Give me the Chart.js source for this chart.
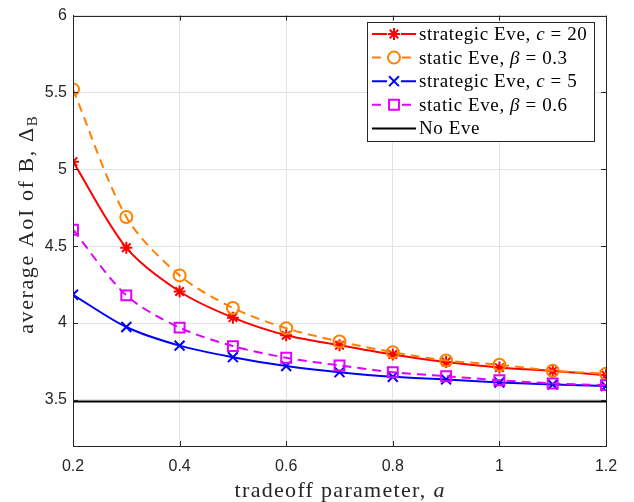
<!DOCTYPE html>
<html>
<head>
<meta charset="utf-8">
<script src="https://cdn.jsdelivr.net/npm/chart.js@4.4.1/dist/chart.umd.min.js"></script>
<style>
  html, body { margin: 0; padding: 0; background: #fff; }
  #wrap { width: 634px; height: 502px; }
</style>
</head>
<body>
<div id="wrap"><canvas id="aoi"></canvas></div>
<script>
// tradeoff parameter a
const tradeoff = [0.2, 0.3, 0.4, 0.5, 0.6, 0.7, 0.8, 0.9, 1.0, 1.1, 1.2];

// average AoI of B for each scenario
const strategicC20 = [5.05, 4.49, 4.205, 4.035, 3.92, 3.855, 3.795, 3.746, 3.71, 3.688, 3.66];
const staticB03   = [5.52, 4.69, 4.31, 4.098, 3.966, 3.88, 3.81, 3.756, 3.729, 3.69, 3.67];
const strategicC5 = [4.184, 3.974, 3.853, 3.778, 3.72, 3.68, 3.65, 3.633, 3.613, 3.60, 3.59];
const staticB06   = [4.607, 4.18, 3.97, 3.85, 3.774, 3.724, 3.68, 3.654, 3.628, 3.607, 3.596];
const noEve       = [3.49, 3.49, 3.49, 3.49, 3.49, 3.49, 3.49, 3.49, 3.49, 3.49, 3.49];

const xTicks = [0.2, 0.4, 0.6, 0.8, 1.0, 1.2];
const yTicks = [3.5, 4, 4.5, 5, 5.5, 6];

// legend text pieces: [plain, italic/math symbol, rest]
const legendLabels = [
  ['strategic Eve, ', 'c', ' = 20'],
  ['static Eve, ', 'β', ' = 0.3'],
  ['strategic Eve, ', 'c', ' = 5'],
  ['static Eve, ', 'β', ' = 0.6'],
  ['No Eve', '', '']
];

const SERIF = '"Liberation Serif", "DejaVu Serif", serif';
const SANS = '"Liberation Sans", Arial, sans-serif';
const AXIS = '#262626';

function pts(ys) {
  return ys.map((y, i) => ({ x: tradeoff[i], y: y }));
}

function series(label, ys, color, style, radius, dash, order) {
  return {
    label: label,
    data: pts(ys),
    borderColor: color,
    backgroundColor: 'rgba(0,0,0,0)',
    pointBorderColor: color,
    pointBackgroundColor: 'rgba(0,0,0,0)',
    pointStyle: style,
    pointRadius: radius,
    pointBorderWidth: 2,
    borderWidth: 2,
    borderDash: dash,
    tension: 0.3,
    order: order
  };
}

// draws pieces of text one after another, returns end x
function drawRun(ctx, pieces, x, y) {
  pieces.forEach(p => {
    ctx.font = p.font;
    ctx.letterSpacing = p.spacing || '0px';
    ctx.fillText(p.text, x, y + (p.dy || 0));
    x += ctx.measureText(p.text).width;
  });
  return x;
}

function runWidth(ctx, pieces) {
  let w = 0;
  pieces.forEach(p => {
    ctx.font = p.font;
    ctx.letterSpacing = p.spacing || '0px';
    w += ctx.measureText(p.text).width;
  });
  return w;
}

// MATLAB-like inward ticks on all four sides
const boxTicks = {
  id: 'boxTicks',
  afterDraw(chart) {
    const { ctx, chartArea: a, scales } = chart;
    const len = 5;
    ctx.save();
    ctx.strokeStyle = AXIS;
    ctx.lineWidth = 1;
    ctx.beginPath();
    xTicks.forEach(v => {
      const px = Math.round(scales.x.getPixelForValue(v)) + 0.5;
      ctx.moveTo(px, a.bottom); ctx.lineTo(px, a.bottom - len);
      ctx.moveTo(px, a.top); ctx.lineTo(px, a.top + len);
    });
    yTicks.forEach(v => {
      const py = Math.round(scales.y.getPixelForValue(v)) + 0.5;
      ctx.moveTo(a.left, py); ctx.lineTo(a.left + len, py);
      ctx.moveTo(a.right, py); ctx.lineTo(a.right - len, py);
    });
    ctx.stroke();
    ctx.strokeRect(Math.round(a.left) + 0.5, Math.round(a.top) + 0.5,
      Math.round(a.right - a.left), Math.round(a.bottom - a.top));
    ctx.restore();
  }
};

// axis titles with italic symbol and subscript
const axisTitles = {
  id: 'axisTitles',
  afterDraw(chart) {
    const { ctx, chartArea: a } = chart;
    ctx.save();
    ctx.fillStyle = AXIS;
    ctx.textBaseline = 'alphabetic';

    const xTitle = [
      { text: 'tradeoff parameter, ', font: '22px ' + SERIF, spacing: '1.3px' },
      { text: 'a', font: 'italic 22px ' + SERIF, spacing: '0px' }
    ];
    const xw = runWidth(ctx, xTitle);
    drawRun(ctx, xTitle, (a.left + a.right) / 2 - xw / 2, 497);

    const yTitle = [
      { text: 'average AoI of B, Δ', font: '22px ' + SERIF, spacing: '1.6px' },
      { text: 'B', font: '15px ' + SERIF, spacing: '0px', dy: 4 }
    ];
    const yw = runWidth(ctx, yTitle);
    ctx.translate(33, 225);
    ctx.rotate(-Math.PI / 2);
    drawRun(ctx, yTitle, -yw / 2, 0);
    ctx.restore();
  }
};

// legend box with line + marker samples
const boxLegend = {
  id: 'boxLegend',
  afterDraw(chart) {
    const { ctx } = chart;
    const left = 367, top = 22, width = 227, height = 119;
    const rowH = 23.6;
    ctx.save();
    ctx.fillStyle = '#fff';
    ctx.fillRect(left, top, width, height);
    ctx.strokeStyle = AXIS;
    ctx.lineWidth = 1;
    ctx.strokeRect(left + 0.5, top + 0.5, width, height);

    chart.data.datasets.forEach((ds, i) => {
      const cy = top + 12 + i * rowH;
      const x1 = left + 5, x2 = left + 49;
      ctx.save();
      ctx.strokeStyle = ds.borderColor;
      ctx.lineWidth = 2;
      ctx.setLineDash(ds.borderDash || []);
      ctx.beginPath();
      ctx.moveTo(x1, cy);
      ctx.lineTo(x2, cy);
      ctx.stroke();
      ctx.restore();
      if (ds.pointRadius > 0) {
        ctx.save();
        ctx.fillStyle = '#fff';
        ctx.fillRect((x1 + x2) / 2 - 7, cy - 7, 14, 14);
        ctx.restore();
        ctx.strokeStyle = ds.pointBorderColor;
        ctx.fillStyle = 'rgba(0,0,0,0)';
        ctx.lineWidth = 2;
        Chart.helpers.drawPoint(ctx, {
          pointStyle: ds.pointStyle,
          radius: ds.pointRadius,
          borderWidth: 2,
          rotation: 0
        }, (x1 + x2) / 2, cy);
      }
      const parts = legendLabels[i];
      ctx.fillStyle = '#000';
      const pieces = [{ text: parts[0], font: '19px ' + SERIF, spacing: '0.6px' }];
      if (parts[1]) {
        pieces.push({ text: parts[1], font: 'italic 19px ' + SERIF, spacing: '0.6px' });
        pieces.push({ text: parts[2], font: '19px ' + SERIF, spacing: '0.6px' });
      }
      drawRun(ctx, pieces, left + 52, cy + 6);
    });
    ctx.restore();
  }
};

new Chart(document.getElementById('aoi'), {
  type: 'line',
  data: {
    datasets: [
      series('strategic Eve, c = 20', strategicC20, '#ff0000', 'star', 6, [], 5),
      series('static Eve, β = 0.3', staticB03, '#ff8000', 'circle', 6, [9, 6], 4),
      series('strategic Eve, c = 5', strategicC5, '#0000ff', 'crossRot', 7, [], 3),
      series('static Eve, β = 0.6', staticB06, '#e100ff', 'rect', 7, [9, 6], 2),
      series('No Eve', noEve, '#000000', 'circle', 0, [], 1)
    ]
  },
  options: {
    responsive: true,
    maintainAspectRatio: false,
    animation: false,
    devicePixelRatio: 1,
    layout: { padding: { top: 10, right: 28, left: 0, bottom: 0 } },
    plugins: {
      legend: { display: false },
      tooltip: { enabled: false }
    },
    scales: {
      x: {
        type: 'linear',
        min: 0.2,
        max: 1.2,
        afterBuildTicks: s => { s.ticks = xTicks.map(v => ({ value: v })); },
        afterFit: s => { s.height = 56; },
        grid: { color: '#e3e3e3', drawTicks: false, lineWidth: 1 },
        border: { color: AXIS, width: 1 },
        ticks: {
          color: AXIS,
          padding: 11,
          font: { family: SANS, size: 16 },
          callback: v => String(Math.round(v * 10) / 10)
        }
      },
      y: {
        type: 'linear',
        min: 3.2,
        max: 6,
        afterBuildTicks: s => { s.ticks = yTicks.map(v => ({ value: v })); },
        afterFit: s => { s.width = 73; },
        grid: { color: '#e3e3e3', drawTicks: false, lineWidth: 1 },
        border: { color: AXIS, width: 1 },
        ticks: {
          color: AXIS,
          padding: 6,
          font: { family: SANS, size: 16 },
          callback: v => String(v)
        }
      }
    }
  },
  plugins: [boxTicks, axisTitles, boxLegend]
});
</script>
</body>
</html>
